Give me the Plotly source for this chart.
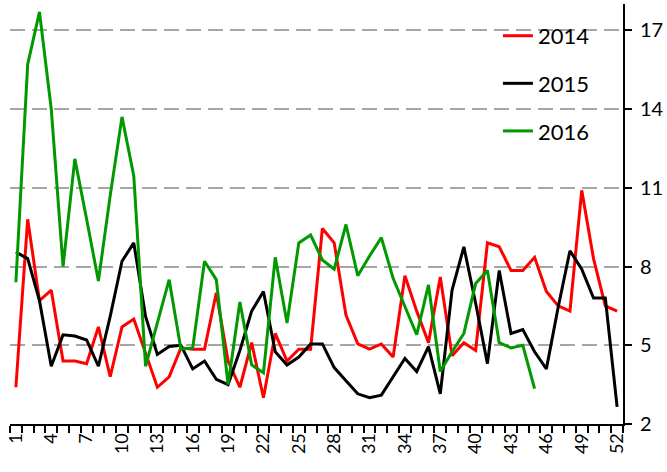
import plotly.graph_objects as go

weeks = list(range(1, 53))
tick_weeks = weeks[::3]
tick_labels = [str(w) for w in tick_weeks]
y_ticks = [2, 5, 8, 11, 14, 17]

series_names = ["2014", "2015", "2016"]
values_2014 = [3.4, 9.8, 6.7, 7.1, 4.4, 4.4, 4.3, 5.7, 3.8, 5.7,
               6.0, 4.7, 3.4, 3.8, 4.9, 4.85, 4.85, 7.0, 4.4, 3.4,
               5.1, 3.0, 5.45, 4.4, 4.85, 4.85, 9.45, 8.9, 6.15, 5.05,
               4.85, 5.05, 4.55, 7.65, 6.3, 5.1, 7.6, 4.6, 5.1, 4.8,
               8.9, 8.75, 7.85, 7.85, 8.35, 7.05, 6.5, 6.3, 10.9, 8.3,
               6.5, 6.3]
values_2015 = [8.55, 8.3, 6.7, 4.2, 5.4, 5.35, 5.2, 4.2, 6.1, 8.2,
               8.9, 6.1, 4.65, 4.95, 5.0, 4.1, 4.4, 3.7, 3.5, 4.8,
               6.3, 7.05, 4.75, 4.25, 4.55, 5.05, 5.05, 4.15, 3.65, 3.15,
               3.0, 3.1, 3.8, 4.5, 4.0, 4.95, 3.15, 7.1, 8.75, 6.6,
               4.3, 7.85, 5.45, 5.6, 4.75, 4.1, 6.45, 8.6, 7.9, 6.8,
               6.8, 2.65]
values_2016 = [7.4, 15.7, 17.7, 14.0, 8.0, 12.1, 9.8, 7.45, 10.7, 13.7,
               11.45, 4.2, 5.85, 7.5, 4.85, 4.9, 8.2, 7.5, 3.5, 6.65,
               4.25, 3.95, 8.35, 5.85, 8.9, 9.2, 8.25, 7.9, 9.6, 7.65,
               8.4, 9.1, 7.55, 6.45, 5.4, 7.3, 4.0, 4.75, 5.45, 7.35,
               7.85, 5.1, 4.9, 5.0, 3.35] + [None] * 7
colors = ["#FF0000", "#000000", "#009900"]

fig = go.Figure()
for name, vals, col in zip(series_names, [values_2014, values_2015, values_2016], colors):
    fig.add_trace(go.Scatter(
        x=weeks, y=vals, mode="lines", name=name, legendgroup=name,
        line=dict(color=col, width=3), connectgaps=False,
    ))

font_family = "Lato, 'Open Sans', sans-serif"
fig.update_layout(
    width=667, height=472,
    margin=dict(l=10, r=44, t=4, b=48),
    paper_bgcolor="white", plot_bgcolor="white",
    font=dict(family=font_family, color="black"),
    showlegend=True,
    legend=dict(
        x=0.796, y=0.974, xanchor="left", yanchor="top",
        font=dict(size=22, family=font_family, color="black"),
        bgcolor="rgba(0,0,0,0)", tracegroupgap=16, traceorder="grouped",
    ),
    xaxis=dict(
        range=[0.5, 52.5], automargin=False,
        tickmode="array", tickvals=tick_weeks, ticktext=tick_labels,
        tickangle=-90, ticks="", showgrid=False, zeroline=False,
        showline=True, linecolor="black", linewidth=2,
        tickfont=dict(size=18, family=font_family, color="black"),
        minor=dict(tick0=0.5, dtick=1, ticks="outside", ticklen=7,
                   tickwidth=2, tickcolor="black", showgrid=False),
    ),
    yaxis=dict(
        side="right", range=[2, 18], automargin=False,
        tickmode="array", tickvals=y_ticks,
        ticks="outside", ticklen=7, tickwidth=2, tickcolor="black",
        showline=True, linecolor="black", linewidth=2,
        showgrid=True, gridcolor="#A6A6A6", gridwidth=2, griddash="15px,7px",
        zeroline=False, ticklabelstandoff=4,
        tickfont=dict(size=20, family=font_family, color="black"),
    ),
)

fig.write_html("out.html", config={"displayModeBar": False},
               post_script="document.body.style.margin='0';")
